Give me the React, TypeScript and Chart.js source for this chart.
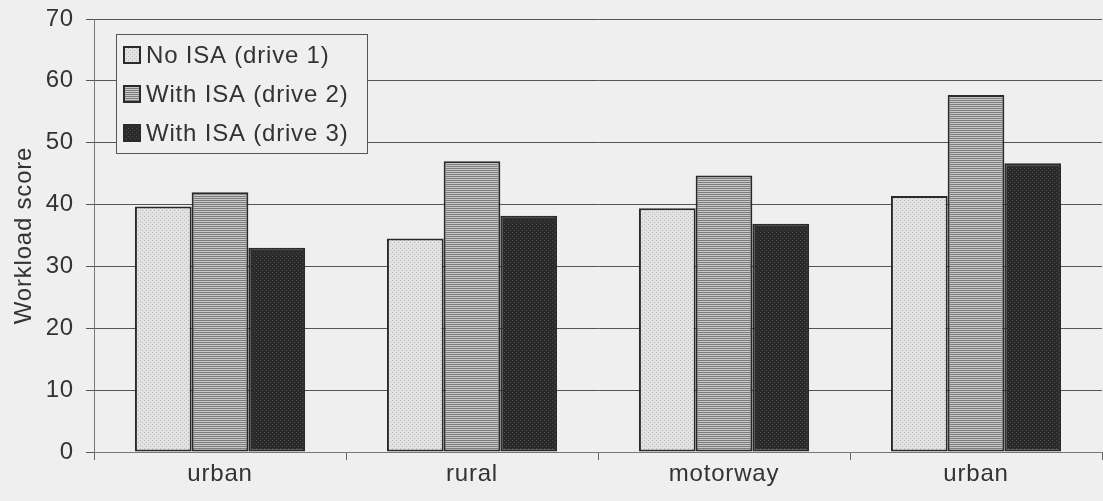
import React, { useEffect, useRef } from "react";
import { Chart, registerables } from "chart.js";
Chart.register(...registerables);

const categories = ["urban", "rural", "motorway", "urban"];
const seriesLabels = ["No ISA (drive 1)", "With ISA (drive 2)", "With ISA (drive 3)"];
const drive1 = [39.7, 34.5, 39.4, 41.4];
const drive2 = [42.0, 47.0, 44.7, 57.7];
const drive3 = [33.0, 38.2, 36.9, 46.7];
const yTickValues = [0, 10, 20, 30, 40, 50, 60, 70];
const yTitle = "Workload score";

const BG = "#efefef";
const FONT = "'Liberation Sans', Arial, sans-serif";
const FS = 24;
const SPACING = "0.8px";

function makePattern(kind: number): CanvasPattern | string {
  const c = document.createElement("canvas");
  c.width = 4;
  c.height = 4;
  const g = c.getContext("2d");
  if (!g) return "#999";
  if (kind === 0) {
    g.fillStyle = "#e2e2e2";
    g.fillRect(0, 0, 4, 4);
    g.fillStyle = "#bcbcbc";
    g.fillRect(0, 0, 1, 1);
    g.fillRect(2, 2, 1, 1);
  } else if (kind === 1) {
    g.fillStyle = "#c8c8c8";
    g.fillRect(0, 0, 4, 4);
    g.fillStyle = "#7e7e7e";
    g.fillRect(0, 0, 4, 1);
    g.fillRect(0, 2, 4, 1);
  } else {
    g.fillStyle = "#2a2a2a";
    g.fillRect(0, 0, 4, 4);
    g.fillStyle = "#4a4a4a";
    g.fillRect(0, 0, 1, 1);
    g.fillRect(2, 2, 1, 1);
  }
  const p = g.createPattern(c, "repeat");
  return p || "#999";
}

export default function App() {
  const ref = useRef<HTMLCanvasElement | null>(null);
  useEffect(() => {
    document.body.style.margin = "0";
    document.body.style.background = BG;
    const canvas = ref.current;
    if (!canvas) return;
    const fills = [makePattern(0), makePattern(1), makePattern(2)];
    const bgPlugin = {
      id: "bgFill",
      beforeDraw(chart: any) {
        const ctx = chart.ctx;
        ctx.fillStyle = BG;
        ctx.fillRect(0, 0, chart.width, chart.height);
        try {
          (ctx as any).letterSpacing = SPACING;
        } catch (e) {}
      },
    };
    const legendPlugin = {
      id: "boxLegend",
      afterDraw(chart: any) {
        const ctx = chart.ctx;
        const a = chart.chartArea;
        const x = a.left + 22;
        const y = a.top + 15;
        const w = 251;
        const h = 119;
        ctx.save();
        try {
          (ctx as any).letterSpacing = SPACING;
        } catch (e) {}
        ctx.fillStyle = BG;
        ctx.fillRect(x, y, w, h);
        ctx.strokeStyle = "#555";
        ctx.lineWidth = 1;
        ctx.strokeRect(x + 0.5, y + 0.5, w, h);
        ctx.font = `${FS}px ${FONT}`;
        ctx.textBaseline = "middle";
        chart.data.datasets.forEach((ds: any, i: number) => {
          const cy = y + 21 + i * 39;
          ctx.fillStyle = ds.backgroundColor;
          ctx.fillRect(x + 8, cy - 8, 16, 16);
          ctx.strokeStyle = "#2a2a2a";
          ctx.lineWidth = 2;
          ctx.strokeRect(x + 8, cy - 8, 16, 16);
          ctx.fillStyle = "#333";
          ctx.fillText(ds.label, x + 30, cy + 1);
        });
        ctx.restore();
      },
    };
    const mk = (i: number, data: number[]) => ({
      label: seriesLabels[i],
      data,
      backgroundColor: fills[i],
      borderColor: "#2a2a2a",
      borderWidth: 2,
      borderSkipped: false,
      categoryPercentage: 0.675,
      barPercentage: 1.0,
    });
    const chart = new Chart(canvas, {
      type: "bar",
      data: {
        labels: categories,
        datasets: [mk(0, drive1), mk(1, drive2), mk(2, drive3)],
      },
      options: {
        animation: false,
        responsive: false,
        maintainAspectRatio: false,
        layout: { padding: { top: 19, right: 1, left: 10, bottom: 0 } },
        plugins: {
          legend: { display: false },
          tooltip: { enabled: false },
        },
        scales: {
          x: {
            offset: true,
            grid: {
              display: true,
              drawOnChartArea: false,
              drawTicks: true,
              tickLength: 8,
              color: "#666",
              offset: true,
            },
            border: { display: true, color: "#777", width: 1 },
            ticks: {
              color: "#333",
              font: { family: FONT, size: FS },
              padding: 0,
            },
            afterFit(scale: any) {
              scale.height = 49;
              scale.paddingLeft = 0;
              scale.paddingRight = 0;
            },
          },
          y: {
            min: 0,
            max: 70,
            afterBuildTicks(scale: any) {
              scale.ticks = yTickValues.map((v) => ({ value: v }));
            },
            grid: {
              color: "#555",
              lineWidth: 1,
              tickLength: 8,
              drawTicks: true,
            },
            border: { display: true, color: "#777", width: 1 },
            ticks: {
              color: "#333",
              font: { family: FONT, size: FS },
              padding: 12,
            },
            title: {
              display: true,
              text: yTitle,
              color: "#333",
              font: { family: FONT, size: FS },
              padding: { top: 0, bottom: 0 },
            },
            afterFit(scale: any) {
              scale.width = 84;
              scale.paddingTop = 0;
              scale.paddingBottom = 0;
            },
          },
        },
      },
      plugins: [bgPlugin, legendPlugin],
    } as any);
    return () => chart.destroy();
  }, []);
  return (
    <div style={{ width: 1103, height: 501, background: BG }}>
      <canvas ref={ref} width={1103} height={501} style={{ display: "block" }} />
    </div>
  );
}
